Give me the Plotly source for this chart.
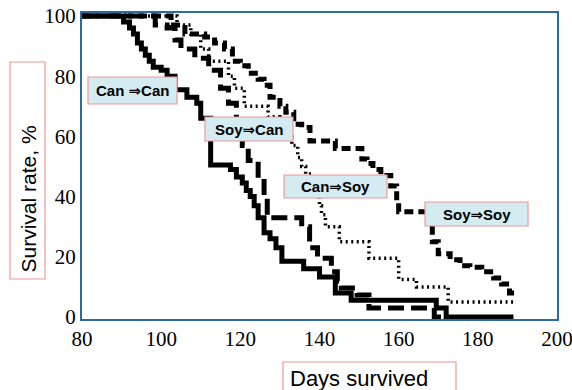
import plotly.graph_objects as go

# Survival curves (Kaplan-Meier style steps): day, survival rate in %
days_can_can = [80, 90.5, 92, 93, 94, 95, 96, 97, 98, 100, 101.5, 103.5, 106.5, 109, 110,
                112.5, 117.5, 119, 120.5, 121.5, 122.5, 123.5, 124.5, 126, 127.5, 129,
                130.5, 136, 140, 144, 148, 169.5, 172, 189]
surv_can_can = [100, 98, 96, 94, 91, 89, 87, 85, 83, 82, 80, 75.5, 73, 71, 66,
                50.5, 49, 46.5, 44.5, 42, 40, 37, 33, 28, 26, 23,
                18.5, 16, 13.3, 8, 5.6, 3, 0, 0]

days_soy_can = [80, 98.5, 101.5, 103.5, 105, 108.5, 112, 115, 117, 119, 120.5, 122,
                124.5, 126, 126.8, 135.5, 137.5, 139.5, 143, 144.5, 145.5, 149.5, 152.5,
                169, 171]
surv_soy_can = [100, 97, 96, 92, 89, 86, 82, 76, 71, 62, 57, 52,
                46, 40, 33, 30, 23, 19.5, 15, 12, 9.6, 7.3, 3,
                0, 0]

days_can_soy = [80, 104, 107.5, 110, 112, 117, 118.5, 121, 127, 130, 132, 133, 134.5,
                135.5, 136.5, 138.5, 140, 140.5, 141.5, 145, 152.5, 160, 164.5, 172.5, 189]
surv_can_soy = [100, 97, 94, 89, 85, 80, 76, 70, 66.5, 63, 60, 57, 53,
                50, 47.5, 42, 37, 34, 30, 25, 19.5, 12.5, 10, 5, 5]

days_soy_soy = [80, 102.5, 106, 111, 113.5, 116, 118, 120, 122, 124.5, 126, 127.5, 130,
                131.5, 133.5, 135.5, 137.6, 144, 150.7, 152, 153.5, 155.5, 158, 159.5,
                160, 168.5, 170, 173, 175.5, 178, 181, 184, 186, 188, 189.5]
surv_soy_soy = [100, 97, 94, 93, 91, 89, 85, 83.5, 81, 79, 77, 73, 70,
                68, 64, 63, 58.5, 56, 52.5, 51, 49, 47, 43.5, 38,
                35, 25, 21, 19, 17, 16.5, 15, 13, 11, 8, 8]

x_ticks = [80, 100, 120, 140, 160, 180, 200]
y_ticks = [0, 20, 40, 60, 80, 100]

group_labels = ["Can \u21d2Can", "Soy\u21d2Can", "Can\u21d2Soy", "Soy\u21d2Soy"]
x_title = "Days survived"
y_title = "Survival rate, %"

W, H = 572, 390
L, R, T, B = 82, 557, 13, 319


def px(x):
    return (x - L) / (R - L)


def py(y):
    return (B - y) / (B - T)


fig = go.Figure()

series = [
    (days_can_can, surv_can_can, dict(color="black", width=5)),
    (days_soy_can, surv_soy_can, dict(color="black", width=5, dash="16px,7px")),
    (days_can_soy, surv_can_soy, dict(color="black", width=3.5, dash="2px,3.5px")),
    (days_soy_soy, surv_soy_soy, dict(color="black", width=5, dash="9px,5px")),
]
for xs, ys, ln in series:
    fig.add_trace(go.Scatter(x=xs, y=ys, mode="lines", line_shape="hv",
                             line=ln, showlegend=False, hoverinfo="skip"))

salmon = "#ee9a96"
box_fill = "#d3ebf1"
label_font = dict(family="Liberation Sans, Arial, DejaVu Sans", size=15, color="black")

# labelled boxes next to each curve (pixel boxes: left, top, right, bottom)
label_boxes = [(88, 77, 177, 104), (205, 117, 293, 141),
               (284, 175, 387, 198), (425, 202, 528, 226)]
shapes = []
annotations = []
for text, (x0, y0, x1, y1) in zip(group_labels, label_boxes):
    shapes.append(dict(type="rect", xref="paper", yref="paper",
                       x0=px(x0), x1=px(x1), y0=py(y1), y1=py(y0),
                       fillcolor=box_fill, line=dict(color=salmon, width=1.2),
                       layer="above"))
    annotations.append(dict(text="<b>%s</b>" % text, xref="paper", yref="paper",
                            x=px((x0 + x1) / 2), y=py((y0 + y1) / 2),
                            xanchor="center", yanchor="middle", showarrow=False,
                            font=label_font))

title_font = dict(family="Liberation Sans, Arial", size=21, color="black")

# y-axis title in an outlined frame
shapes.append(dict(type="rect", xref="paper", yref="paper",
                   x0=px(10), x1=px(45), y0=py(279), y1=py(62),
                   line=dict(color=salmon, width=1.2), fillcolor="rgba(0,0,0,0)"))
annotations.append(dict(text=y_title, xref="paper", yref="paper",
                        x=px(28), y=py(199.5), xanchor="center", yanchor="middle",
                        textangle=-90, showarrow=False, font=title_font))

# x-axis title in an outlined frame
shapes.append(dict(type="rect", xref="paper", yref="paper",
                   x0=px(283), x1=px(456), y0=py(400), y1=py(362),
                   line=dict(color=salmon, width=1.2), fillcolor="rgba(0,0,0,0)"))
annotations.append(dict(text=x_title, xref="paper", yref="paper",
                        x=px(288), y=py(378), xanchor="left", yanchor="middle",
                        showarrow=False, font=dict(family="Liberation Sans, Arial",
                                                   size=22, color="black")))

axis_color = "#2d6a9f"
tick_font = dict(family="Liberation Serif, Times New Roman, serif", size=21, color="black")

fig.update_layout(
    width=W, height=H,
    margin=dict(l=L, r=W - R, t=T, b=H - B, autoexpand=False),
    paper_bgcolor="white", plot_bgcolor="white",
    shapes=shapes, annotations=annotations,
    xaxis=dict(range=[80, 200], tickvals=x_ticks, showgrid=False, zeroline=False,
               showline=True, mirror=True, linecolor=axis_color, linewidth=2,
               ticks="", tickfont=tick_font, ticklabelstandoff=0,
               ticklabeloverflow="allow", automargin=False),
    yaxis=dict(range=[-0.66, 101], tickvals=y_ticks, showgrid=False, zeroline=False,
               showline=True, mirror=True, linecolor=axis_color, linewidth=2,
               ticks="", tickfont=tick_font, ticklabelstandoff=0,
               ticklabeloverflow="allow", automargin=False),
)

fig.write_html("out.html")
